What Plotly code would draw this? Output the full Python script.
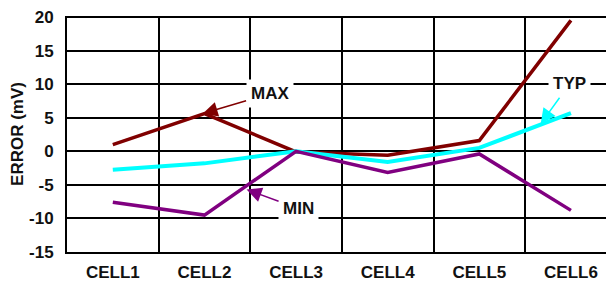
import plotly.graph_objects as go

cells = ["CELL1", "CELL2", "CELL3", "CELL4", "CELL5", "CELL6"]
max_err = [1.0, 5.6, -0.1, -0.6, 1.6, 19.5]
typ_err = [-2.75, -1.8, 0.0, -1.6, 0.5, 5.7]
min_err = [-7.6, -9.5, 0.0, -3.15, -0.4, -8.8]
y_ticks = [-15, -10, -5, 0, 5, 10, 15, 20]

FONT = "Liberation Sans, Arial, sans-serif"
C_MAX = "#800000"
C_TYP = "#00FFFF"
C_MIN = "#800080"

fig = go.Figure()
fig.add_trace(go.Scatter(x=cells, y=max_err, mode="lines", line=dict(color=C_MAX, width=3.5), name="MAX"))
fig.add_trace(go.Scatter(x=cells, y=typ_err, mode="lines", line=dict(color=C_TYP, width=4), name="TYP"))
fig.add_trace(go.Scatter(x=cells, y=min_err, mode="lines", line=dict(color=C_MIN, width=3.5), name="MIN"))

def label(text, x, y, ax, ay, color):
    fig.add_annotation(
        x=x, y=y, xref="x", yref="y", text="<b>%s</b>" % text,
        showarrow=True, ax=ax, ay=ay, arrowcolor=color, arrowwidth=1.5,
        arrowhead=2, arrowsize=2, standoff=0,
        font=dict(family=FONT, size=17, color="#111111"),
        bgcolor="white", borderpad=4,
    )

label("MAX", 0.98, max_err[1], 67, -20, C_MAX)
label("TYP", 4.67, 4.1, 29, -40, C_TYP)
label("MIN", 1.46, -5.7, 52, 19, C_MIN)

# page body has an 8px margin, so the figure is sized and offset to compensate
fig.update_layout(
    width=606, height=273,
    margin=dict(l=59, r=0, t=8, b=29),
    plot_bgcolor="white", paper_bgcolor="white",
    showlegend=False,
    font=dict(family=FONT, color="#111111"),
)
fig.update_xaxes(
    type="category", range=[-0.5, 5.47], tickson="boundaries",
    showgrid=True, gridcolor="black", gridwidth=2,
    showline=True, linecolor="black", linewidth=2,
    ticks="", tickfont=dict(family=FONT, size=17, color="#111111"),
    ticklabelstandoff=4, automargin=False,
    tickvals=cells, ticktext=["<b>%s</b>" % c for c in cells],
)
fig.update_yaxes(
    range=[-15, 20.15], tickvals=y_ticks, ticktext=["<b>%d</b>" % v for v in y_ticks],
    showgrid=True, gridcolor="black", gridwidth=2,
    zeroline=True, zerolinecolor="black", zerolinewidth=2,
    showline=True, linecolor="black", linewidth=2,
    ticks="", tickfont=dict(family=FONT, size=17, color="#111111"),
    ticklabelstandoff=8, automargin=False, ticklabeloverflow="allow",
    title=dict(text="<b>ERROR (mV)</b>", font=dict(family=FONT, size=17, color="#111111"), standoff=6),
)

fig.write_html("out.html")
